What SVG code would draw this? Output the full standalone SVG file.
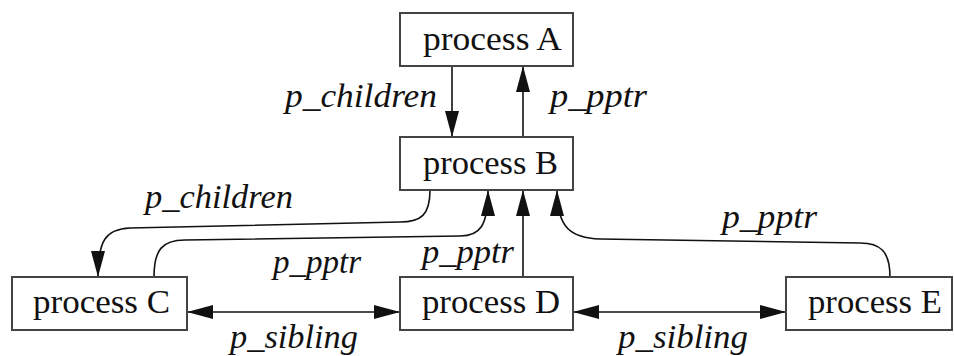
<svg xmlns="http://www.w3.org/2000/svg" width="954" height="356" viewBox="0 0 954 356">
<style>
.box{fill:#fff;stroke:#444;stroke-width:2}
.bt{font-family:"Liberation Serif","Times New Roman",serif;font-size:33px;fill:#111}
.lb{font-family:"Liberation Serif","Times New Roman",serif;font-size:33px;font-style:italic;fill:#111}
.ln{fill:none;stroke:#111;stroke-width:1.6}
</style>
<defs>
<marker id="ah" markerUnits="userSpaceOnUse" markerWidth="27" markerHeight="15" refX="26" refY="7" orient="auto-start-reverse" viewBox="0 0 27 15">
<path d="M0,0 L26,7 L0,14 z" fill="#111"/>
</marker>
</defs>
<rect width="954" height="356" fill="#fff"/>
<g id="connectors">
<path class="ln" d="M452,66 L452,137" marker-end="url(#ah)"/>
<path class="ln" d="M523,137 L523,66" marker-end="url(#ah)"/>
<path class="ln" d="M430,190 C430,215 421,222 400,222 L130,228 C106,229 98,240 98,277" marker-end="url(#ah)"/>
<path class="ln" d="M154,277 C154,250 162,240 185,240 L460,236 C480,236 488,226 488,190" marker-end="url(#ah)"/>
<path class="ln" d="M523,277 L523,190" marker-end="url(#ah)"/>
<path class="ln" d="M890,277 C890,251 880,243 860,243 L600,239 C572,238 557,229 557,190" marker-end="url(#ah)"/>
<path class="ln" d="M187,312 L400,312" marker-start="url(#ah)" marker-end="url(#ah)"/>
<path class="ln" d="M573,312 L786,312" marker-start="url(#ah)" marker-end="url(#ah)"/>
<text class="lb" x="285" y="107" textLength="152" lengthAdjust="spacingAndGlyphs">p_children</text>
<text class="lb" x="550" y="107" textLength="97" lengthAdjust="spacingAndGlyphs">p_pptr</text>
<text class="lb" x="145" y="208" textLength="148" lengthAdjust="spacingAndGlyphs">p_children</text>
<text class="lb" x="273" y="273" textLength="88" lengthAdjust="spacingAndGlyphs">p_pptr</text>
<text class="lb" x="422" y="263" textLength="92" lengthAdjust="spacingAndGlyphs">p_pptr</text>
<text class="lb" x="722" y="228" textLength="95" lengthAdjust="spacingAndGlyphs">p_pptr</text>
<text class="lb" x="230" y="348" textLength="128" lengthAdjust="spacingAndGlyphs">p_sibling</text>
<text class="lb" x="618" y="348" textLength="130" lengthAdjust="spacingAndGlyphs">p_sibling</text>
</g>
<g id="processA">
<rect class="box" x="400" y="13" width="173" height="53"/>
<text class="bt" x="423" y="50" textLength="139" lengthAdjust="spacingAndGlyphs">process A</text>
</g>
<g id="processB">
<rect class="box" x="400" y="137" width="173" height="53"/>
<text class="bt" x="423" y="174" textLength="135" lengthAdjust="spacingAndGlyphs">process B</text>
</g>
<g id="processC">
<rect class="box" x="12" y="277" width="175" height="53"/>
<text class="bt" x="33" y="313" textLength="137" lengthAdjust="spacingAndGlyphs">process C</text>
</g>
<g id="processD">
<rect class="box" x="400" y="277" width="173" height="53"/>
<text class="bt" x="422" y="313" textLength="138" lengthAdjust="spacingAndGlyphs">process D</text>
</g>
<g id="processE">
<rect class="box" x="786" y="277" width="166" height="53"/>
<text class="bt" x="808" y="313" textLength="134" lengthAdjust="spacingAndGlyphs">process E</text>
</g>
</svg>
